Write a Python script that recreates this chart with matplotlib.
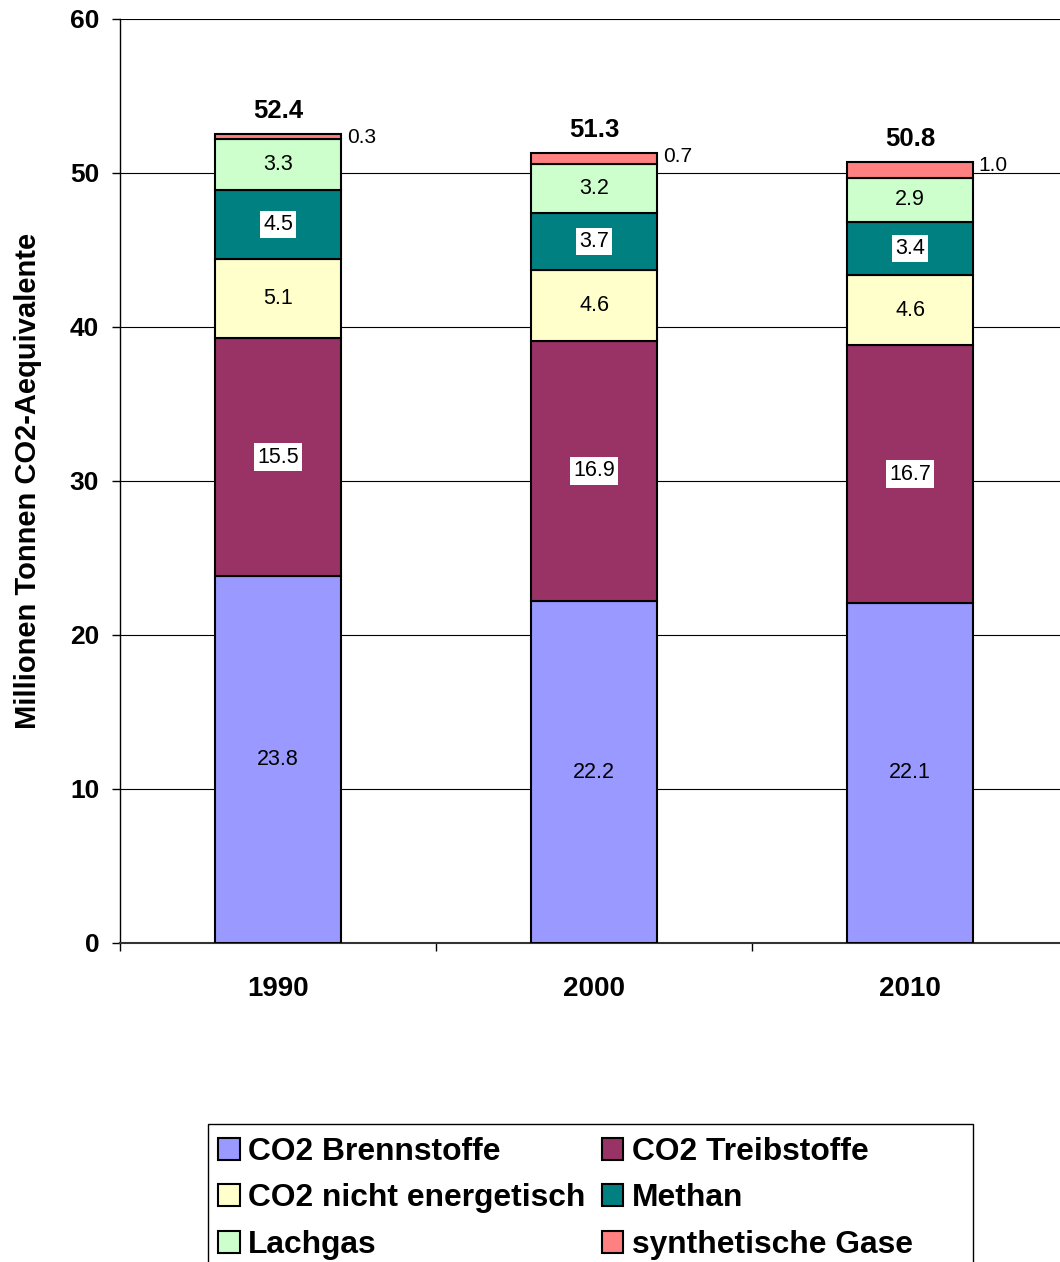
import matplotlib
matplotlib.use("Agg")
import matplotlib.pyplot as plt
from matplotlib.patches import Rectangle
import numpy as np

plt.rcParams['font.family'] = ['Liberation Sans', 'DejaVu Sans']

years = ["1990", "2000", "2010"]
series_names = ["CO2 Brennstoffe", "CO2 Treibstoffe", "CO2 nicht energetisch",
                "Methan", "Lachgas", "synthetische Gase"]
brennstoffe = [23.8, 22.2, 22.1]
treibstoffe = [15.5, 16.9, 16.7]
nicht_energetisch = [5.1, 4.6, 4.6]
methan = [4.5, 3.7, 3.4]
lachgas = [3.3, 3.2, 2.9]
synthetische = [0.3, 0.7, 1.0]
totals = [52.4, 51.3, 50.8]
yticks = [0, 10, 20, 30, 40, 50, 60]

colors = ["#9999FF", "#993366", "#FFFFCC", "#008080", "#CCFFCC", "#FF8080"]
series = [brennstoffe, treibstoffe, nicht_energetisch, methan, lachgas, synthetische]

fig = plt.figure(figsize=(10.60, 12.62), dpi=100)
W, H = 1060, 1262
ax = fig.add_axes([120 / W, 1 - 943 / H, 948 / W, (943 - 19) / H])

x = np.arange(len(years))
bw = 0.4
bottom = np.zeros(len(years))
handles = []
for i, (name, vals, col) in enumerate(zip(series_names, series, colors)):
    vals = np.array(vals)
    bars = ax.bar(x, vals, bw, bottom=bottom, color=col, edgecolor="black",
                  linewidth=1.5, label=name, zorder=3)
    handles.append(bars)
    for xi, v, b in zip(x, vals, bottom):
        if i == 5:
            ax.annotate(f"{v:.1f}", (xi + bw / 2, b + v), xytext=(4, -2.2),
                        textcoords="offset points", ha="left", va="center",
                        fontsize=15, zorder=5)
        elif i in (1, 3):
            ax.text(xi, b + v / 2, f"{v:.1f}", ha="center", va="center",
                    fontsize=15.5, zorder=5,
                    bbox=dict(boxstyle="square,pad=0.15", fc="white", ec="none"))
        else:
            ax.text(xi, b + v / 2, f"{v:.1f}", ha="center", va="center",
                    fontsize=15.5, zorder=5)
    bottom = bottom + vals

for xi, top, t in zip(x, bottom, totals):
    ax.annotate(f"{t:.1f}", (xi, top), xytext=(0, 16.6), textcoords="offset points",
                ha="center", va="center", fontsize=18.5, fontweight="bold", zorder=5)

ax.set_xlim(-0.5, 2.5)
ax.set_ylim(0, 60)
ax.set_yticks(yticks)
ax.set_yticklabels([str(v) for v in yticks], fontsize=19, fontweight="bold")
ax.set_xticks(x)
ax.set_xticklabels(years, fontsize=20, fontweight="bold")
ax.set_xticks([-0.5, 0.5, 1.5, 2.5], minor=True)
ax.tick_params(axis="x", which="major", length=0, pad=24)
ax.tick_params(axis="x", which="minor", length=6, width=1, direction="out")
ax.tick_params(axis="y", which="major", length=6, width=1, direction="out", pad=9)
ax.yaxis.grid(True, color="black", linewidth=0.8, zorder=0)
ax.set_axisbelow(True)
for s in ["top", "right"]:
    ax.spines[s].set_visible(False)
ax.spines["left"].set_linewidth(1)
ax.spines["bottom"].set_linewidth(1.5)
ax.spines["bottom"].set_color("#333333")
ax.set_ylabel("Millionen Tonnen CO2-Aequivalente", fontsize=21, fontweight="bold",
              labelpad=20)

# legend frame (clipped at the bottom like the reference)
fig.patches.append(Rectangle((208 / W, -0.05), (973 - 208) / W, (1 - 1124 / H) + 0.05,
                             transform=fig.transFigure, fill=False,
                             edgecolor="black", linewidth=1))

order = [0, 2, 4, 1, 3, 5]
leg = fig.legend([handles[i] for i in order], [series_names[i] for i in order],
                 loc="upper left", bbox_to_anchor=(205 / W, 1 - 1124 / H),
                 ncol=2, prop=dict(weight="bold", size=22.9),
                 frameon=False,
                 handlelength=0.69, handleheight=0.69, handletextpad=0.27,
                 columnspacing=0.5, labelspacing=0.52, borderpad=0.4,
                 borderaxespad=0)
for p in leg.get_patches():
    p.set_linewidth(1.5)

fig.savefig("out.png", dpi=100)
